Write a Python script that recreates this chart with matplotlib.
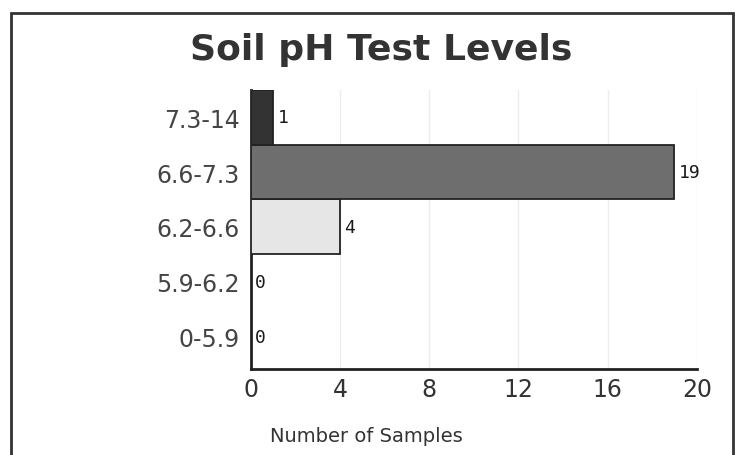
# Soil pH test levels - horizontal bar chart

from matplotlib import pyplot as plt
from matplotlib.patches import Rectangle

# Data
ph_ranges = ["0-5.9", "5.9-6.2", "6.2-6.6", "6.6-7.3", "7.3-14"]
samples = [0, 0, 4, 19, 1]
bar_colors = ["#ffffff", "#ffffff", "#e6e6e6", "#6e6e6e", "#333333"]
x_ticks = [0, 4, 8, 12, 16, 20]

fig = plt.figure(figsize=(7.35, 4.56), dpi=100)
ax = fig.add_axes([0.3415, 0.1886, 0.6065, 0.6124])

# outer frame of the chart
fig.patches.append(Rectangle((0.015, -0.05), 0.982, 1.02, transform=fig.transFigure,
                             fill=False, edgecolor="#333333", linewidth=2))

pos = range(len(ph_ranges))
ax.barh(pos, samples, height=1.0, color=bar_colors, edgecolor="#222222",
        linewidth=1.3, zorder=3)

# value labels at end of bars
for i, v in enumerate(samples):
    ax.annotate(str(v), xy=(v, i), xytext=(3, 0), textcoords="offset points",
                va="center", ha="left", fontsize=13,
                family="DejaVu Sans Mono", color="#1a1a1a")

ax.set_xlim(0, 20)
ax.set_ylim(-0.59, 4.5)
ax.set_xticks(x_ticks)
ax.set_yticks(list(pos))
ax.set_yticklabels(ph_ranges)
ax.tick_params(axis="x", length=0, labelsize=17, labelcolor="#333333", pad=6)
ax.tick_params(axis="y", length=0, labelsize=17, labelcolor="#444444", pad=8)

ax.grid(axis="x", color="#ececec", linewidth=1, zorder=0)
for s in ["top", "right"]:
    ax.spines[s].set_visible(False)
for s in ["left", "bottom"]:
    ax.spines[s].set_color("#222222")
    ax.spines[s].set_linewidth(2)

fig.text(381 / 735, 0.868, "Soil pH Test Levels", ha="center", va="baseline",
         fontsize=26, fontweight="bold", color="#333333")
fig.text(366 / 735, 0.042, "Number of Samples", ha="center", va="center",
         fontsize=14, color="#333333")

plt.savefig("out.png", dpi=100)
